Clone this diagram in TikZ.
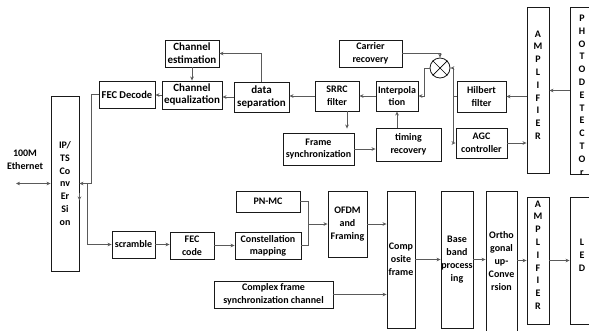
\documentclass[tikz,border=0pt]{standalone}
\usepackage{fontspec}
\setmainfont{Carlito}
\usetikzlibrary{arrows.meta,calc}
\definecolor{lnc}{HTML}{5A5A5A}
\tikzset{
  lbl/.style={font=\fontsize{10}{12.8}\selectfont\bfseries, align=center, inner sep=0pt},
  big/.style={font=\fontsize{11}{13}\selectfont\bfseries},
  box/.style={lbl, draw=black!90, line width=0.9pt, fill=white, rectangle},
  conn/.style={draw=lnc, line width=0.8pt},
  arr/.style={conn, -{Stealth[length=4pt,width=3.6pt]}},
  dbl/.style={conn, {Stealth[length=4pt,width=3.6pt]}-{Stealth[length=4pt,width=3.6pt]}},
}
\begin{document}
\begin{tikzpicture}[x=1pt,y=-1pt]
\useasboundingbox (0,0) rectangle (589,330);
\clip (0,0) rectangle (589,330);
% receiver chain
\node[box, big, minimum width=54pt, minimum height=27pt] (chest) at (192,53.5) {Channel\\estimation};
\node[box, font=\fontsize{10.5}{13}\selectfont\bfseries, minimum width=56pt, minimum height=27pt] (fecd) at (127,94.5) {FEC Decode};
\node[box, big, minimum width=60pt, minimum height=28pt] (cheq) at (192,95) {Channel\\[-1pt]equalization};
\node[box, big, minimum width=55pt, minimum height=30pt] (dsep) at (261.5,97) {data\\separation};
\node[box, minimum width=28pt, minimum height=175pt] (ipts) at (65,183.5) {IP/\\TS\\Co\\nv\\Er\\Si\\on};
\node[box, minimum width=63pt, minimum height=27pt] (carr) at (370.5,53.5) {Carrier\\recovery};
\node[box, minimum width=44pt, minimum height=30pt] (srrc) at (337,96) {SRRC\\filter};
\node[box, minimum width=42pt, minimum height=30pt] (interp) at (397,96) {Interpola\\tion};
\node[box, minimum width=49pt, minimum height=31pt] (hilb) at (481.5,96.5) {Hilbert\\filter};
\node[box, minimum width=51pt, minimum height=30pt] (agc) at (481.5,143) {AGC\\controller};
\node[box, minimum width=65pt, minimum height=33pt] (timing) at (408.5,144.5) {timing\\recovery};
\node[box, minimum width=71pt, minimum height=32pt] (frsync) at (318.5,149) {Frame\\synchronization};
\node[box, minimum width=22pt, minimum height=166pt] (amp1) at (538,90) {};
\node[lbl] (amp1t) at (538,85) {A\\M\\P\\L\\I\\F\\I\\E\\R};
\node[box, minimum width=24pt, minimum height=167pt] (photo) at (582,90.5) {};
\node[lbl] (photot) at (582,95) {P\\H\\O\\T\\O\\D\\E\\T\\E\\C\\T\\O\\r};
\node[circle, draw=black!90, line width=0.8pt, minimum size=20pt, inner sep=0pt] (mix) at (440,68) {};
\draw[line width=0.7pt] (mix.north west) -- (mix.south east);
\draw[line width=0.7pt] (mix.north east) -- (mix.south west);
\node[lbl] (eth) at (25,160) {100M\\Ethernet};
% transmitter chain
\node[box, minimum width=43pt, minimum height=27pt] (scr) at (133.5,244.5) {scramble};
\node[box, minimum width=44pt, minimum height=27pt] (fecc) at (192,245.5) {FEC\\code};
\node[box, minimum width=66pt, minimum height=27pt] (const) at (268,245.5) {Constellation\\[-1pt]mapping};
\node[box, minimum width=64pt, minimum height=21pt] (pnmc) at (268,201.5) {PN-MC};
\node[box, minimum width=39pt, minimum height=66pt] (ofdm) at (347.5,224) {OFDM\\and\\Framing};
\node[box, minimum width=119pt, minimum height=27pt] (cfsc) at (273.5,294.5) {Complex frame\\synchronization channel};
\node[box, minimum width=28pt, minimum height=137pt] (comp) at (401,259.5) {Comp\\osite\\frame};
\node[box, minimum width=32pt, minimum height=137pt] (base) at (457,259.5) {Base\\band\\process\\ing};
\node[box, minimum width=31pt, minimum height=140pt] (orth) at (501.5,261) {Ortho\\gonal\\up-\\Conve\\rsion};
\node[box, minimum width=22pt, minimum height=127pt] (amp2) at (538,260.5) {};
\node[lbl] (amp2t) at (538,255) {A\\M\\P\\L\\I\\F\\I\\E\\R};
\node[box, minimum width=24pt, minimum height=127pt] (led) at (582,260.5) {};
\node[lbl] (ledt) at (582,255) {L\\E\\D};
% junction coordinates
\coordinate (jr) at (453,96.5);
\coordinate (jm) at (308,224);
\coordinate (ethL) at (16,183.5);
% receiver connectors
\draw[arr] (photo.west) -- (photo.west -| amp1.east);
\draw[arr] (amp1.west |- hilb.east) -- (hilb.east);
\draw[conn] (hilb.west) -- (jr);
\draw[arr] (jr) |- (mix.east);
\draw[arr] (jr) |- (agc.west);
\draw[arr] (agc.east) -- (agc.east -| amp1.west);
\draw[arr] (carr.east) -| (mix.north);
\draw[arr] (mix.west) -- ++(-5,0) |- (interp.east);
\draw[arr] (interp.west) -- (srrc.east);
\draw[arr] (srrc.west) -- (srrc.west -| dsep.east);
\draw[arr, shorten >=4pt] ([xshift=10pt]srrc.south) -- ([xshift=10pt]srrc.south |- frsync.north);
\draw[arr] (frsync.east) -- (frsync.east -| timing.west);
\draw[arr] (interp.south |- timing.north) -- (interp.south);
\draw[arr] (dsep.west) -- (dsep.west -| cheq.east);
\draw[arr] (dsep.north) |- (chest.east);
\draw[arr] (chest.south) -- (cheq.north);
\draw[arr] (cheq.west) -- (cheq.west -| fecd.east);
\draw[arr] (fecd.west) -- ++(-7,0) |- (ipts.east);
\draw[arr] ([xshift=8pt]ipts.east) |- (scr.west);
\draw[arr] ($(ipts.east)+(0,9)$) -- ++(0,8);
\draw[dbl] (ethL) -- (ipts.west);
% transmitter connectors
\draw[arr] (scr.east) -- (scr.east -| fecc.west);
\draw[arr] (fecc.east) -- (const.west);
\draw[conn] (pnmc.east) -| (jm);
\draw[conn] (const.east) -| (jm);
\draw[arr] (jm) -- (ofdm.west);
\draw[arr] (ofdm.east) -- (ofdm.east -| comp.west);
\draw[arr] (cfsc.east) -- (cfsc.east -| comp.west);
\draw[arr] (comp.east) -- (comp.east -| base.west);
\draw[arr] (base.east) -- (base.east -| orth.west);
\draw[arr] (orth.east |- amp2.west) -- (amp2.west);
\draw[arr] (amp2.east) -- (led.west);
\end{tikzpicture}
\end{document}
